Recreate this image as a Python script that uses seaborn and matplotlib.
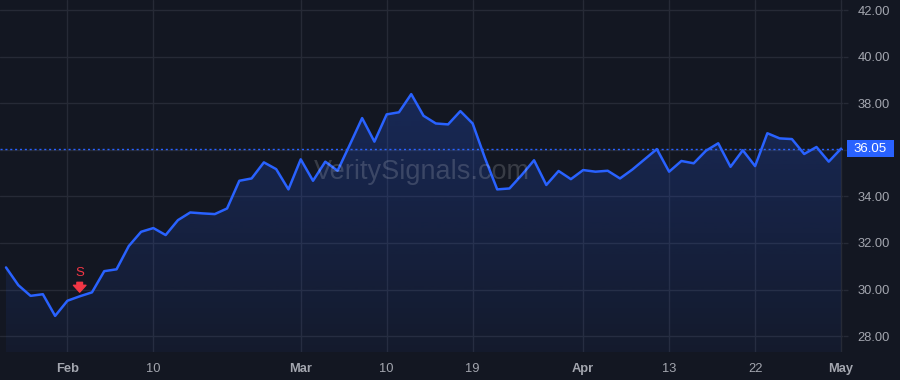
import numpy as np
import pandas as pd
import matplotlib
matplotlib.use("Agg")
import matplotlib.pyplot as plt
import seaborn as sns
from matplotlib.colors import to_rgb
from matplotlib.patches import FancyBboxPatch
from matplotlib.transforms import blended_transform_factory

# ---- data (trading-day index, closes) ----
closes = [30.95, 30.19, 29.73, 29.80, 28.87, 29.52, 29.71, 29.88, 30.79, 30.87,
          31.87, 32.48, 32.64, 32.34, 32.98, 33.31, 33.27, 33.24, 33.48, 34.67,
          34.77, 35.46, 35.17, 34.30, 35.59, 34.67, 35.49, 35.10, 36.22, 37.36,
          36.35, 37.52, 37.61, 38.39, 37.46, 37.13, 37.09, 37.66, 37.13, 35.65,
          34.30, 34.34, 34.92, 35.55, 34.49, 35.09, 34.74, 35.13, 35.06, 35.10,
          34.77, 35.15, 35.59, 36.03, 35.06, 35.52, 35.42, 35.96, 36.28, 35.27,
          35.98, 35.30, 36.71, 36.49, 36.46, 35.82, 36.12, 35.49, 36.05]
tick_pos = [5, 12, 24, 31, 38, 47, 54, 61, 68]
tick_labels = ["Feb", "10", "Mar", "10", "19", "Apr", "13", "22", "May"]
month_labels = {"Feb", "Mar", "Apr", "May"}
y_ticks = [28, 30, 32, 34, 36, 38, 40, 42]
last_price = 36.05
signal_idx = 6
signal_label = "S"
watermark = "VeritySignals.com"

df = pd.DataFrame({"i": np.arange(len(closes)), "close": closes})

BG = "#131722"
GRID = "#262a36"
BLUE = "#2962ff"
TXT = "#a3a6af"
RED = "#f23645"

sns.set_theme(style="dark")
plt.rcParams["font.family"] = ["Liberation Sans", "DejaVu Sans"]

fig = plt.figure(figsize=(9, 3.8), dpi=100, facecolor=BG)
ax = fig.add_axes([0.0, (380 - 352) / 380, 843 / 900, 352 / 380])
ax.set_facecolor(BG)

xlim = (-0.49, 68.16)
ylim = (27.32, 42.43)

sns.lineplot(data=df, x="i", y="close", ax=ax, color=BLUE, linewidth=1.8, zorder=4)

# gradient area fill
poly = ax.fill_between(df["i"], df["close"], ylim[0], color="none", lw=0)
n = 256
rgba = np.zeros((n, 1, 4))
rgba[..., :3] = to_rgb(BLUE)
rgba[:, 0, 3] = np.linspace(0.05, 0.24, n)
im = ax.imshow(rgba, extent=[xlim[0], xlim[1], ylim[0], 38.4], aspect="auto",
               origin="lower", zorder=2)
im.set_clip_path(poly.get_paths()[0], transform=ax.transData)

# last price dotted line
ax.axhline(last_price, color=BLUE, lw=1, ls=(0, (1.5, 2)), zorder=3)

ax.set_xlim(*xlim)
ax.set_ylim(*ylim)

ax.set_xticks(tick_pos)
ax.set_xticklabels(tick_labels)
for t in ax.get_xticklabels():
    t.set_fontweight("bold" if t.get_text() in month_labels else "normal")
ax.set_yticks(y_ticks)
# the 36.00 label sits under the last-price badge, as in the reference
ax.set_yticklabels(["" if abs(v - last_price) < 0.5 else f"{v:.2f}" for v in y_ticks])
ax.yaxis.tick_right()
ax.tick_params(axis="x", length=0, pad=8, labelsize=9.3, labelcolor=TXT)
ax.tick_params(axis="y", length=3.6, width=1, color=GRID, pad=7,
               labelsize=9.3, labelcolor=TXT)
ax.grid(True, color=GRID, lw=1)
ax.set_axisbelow(True)
for s in ax.spines.values():
    s.set_visible(False)
ax.set_xlabel("")
ax.set_ylabel("")

# price label box
tr = blended_transform_factory(fig.transFigure, ax.transData)
hh = 17.5 / 23.29
box = FancyBboxPatch((847 / 900, last_price - hh / 2), 47 / 900, hh,
                     boxstyle="square,pad=0", transform=tr, facecolor=BLUE,
                     edgecolor="none", clip_on=False, zorder=10)
ax.add_patch(box)
ax.text((847 + 894) / 2 / 900, last_price, f"{last_price:.2f}", transform=tr,
        ha="center", va="center", color="white", fontsize=9.5, zorder=11,
        clip_on=False)

# signal marker
sy = closes[signal_idx]
ax.annotate("", xy=(signal_idx, sy), xytext=(0, 14), textcoords="offset pixels",
            arrowprops=dict(arrowstyle="simple,head_width=1.0,head_length=0.55,tail_width=0.45",
                            color=RED, shrinkA=0, shrinkB=3, mutation_scale=9),
            zorder=6)
ax.annotate(signal_label, xy=(signal_idx, sy), xytext=(0, 23),
            textcoords="offset pixels", ha="center", va="center",
            color=RED, fontsize=9.5, zorder=6)

# watermark
ax.text(0.501, (380 - 172 - 28) / 352, watermark, transform=ax.transAxes,
        ha="center", va="center", fontsize=19.5, color="white", alpha=0.16,
        zorder=5)

fig.savefig("out.png", dpi=100, facecolor=BG)
